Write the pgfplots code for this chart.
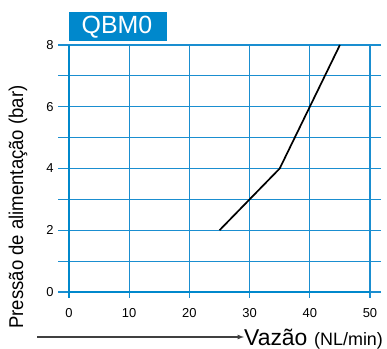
\documentclass[border=0pt]{standalone}
\usepackage{fontspec}
\setmainfont{Liberation Sans}
\usepackage{pgfplots}
\pgfplotsset{compat=1.18}
\definecolor{gblue}{HTML}{1A8ED0}
\definecolor{tblue}{HTML}{0088CC}
\begin{document}
\begin{tikzpicture}[x=1bp,y=1bp]
\path[use as bounding box] (0,0) rectangle (387,349);
\begin{axis}[
  at={(69bp,57bp)}, anchor=origin,
  scale only axis, width=301bp, height=247bp,
  xmin=0, xmax=50, ymin=0, ymax=8,
  xtick={0,10,...,50}, ytick={0,2,...,8}, minor ytick={1,3,5,7},
  grid=both,
  major grid style={gblue, line width=1.1bp},
  minor grid style={gblue, line width=1.1bp},
  axis line style={draw=none},
  tick align=outside,
  major tick length=11bp, minor tick length=11bp,
  ytick style={gblue, line width=1.1bp},
  xtick style={draw=none},
  tick label style={font=\fontsize{13}{14}\selectfont},
  /pgf/number format/assume math mode=true,
  yticklabel style={xshift=-1bp},
  xticklabel style={yshift=-2bp},
  clip=false,
]
\draw[gblue, line width=1.1bp] (axis cs:0,8) -- (axis cs:50,8) -- (axis cs:50,0);
\pgfplotsinvokeforeach{10,20,30,40,50}{
  \draw[gblue, line width=1.1bp] (axis cs:#1,0) -- ++(0,-6bp);
}
\draw[tblue, line width=2.6bp] (axis cs:0,8) -- (axis cs:0,0) -- ++(0,-6bp);
\draw[tblue, line width=2.6bp] (axis cs:0,0) -- (axis cs:50,0);
\addplot[black, line width=1.7bp, mark=none] coordinates {(25,2) (35,4) (45,8)};
\end{axis}
\fill[tblue] (69,308) rectangle (167,337);
\node[white, anchor=center, font=\fontsize{25}{26}\selectfont] at (117,322) {QBM0};
\node[rotate=90, anchor=center, inner sep=0] at (18,142) {\scalebox{0.93}[1]{\fontsize{20}{22}\selectfont Pressão de alimentação (bar)}};
\draw[black!75, line width=1.2bp, -{latex}] (37,12) -- (244,12);
\node[anchor=base west, inner sep=0, font=\fontsize{23}{24}\selectfont] at (244,4) {Vazão};
\node[anchor=base west, inner sep=0, font=\fontsize{18}{20}\selectfont] at (314,4) {(NL/min)};
\end{tikzpicture}
\end{document}
